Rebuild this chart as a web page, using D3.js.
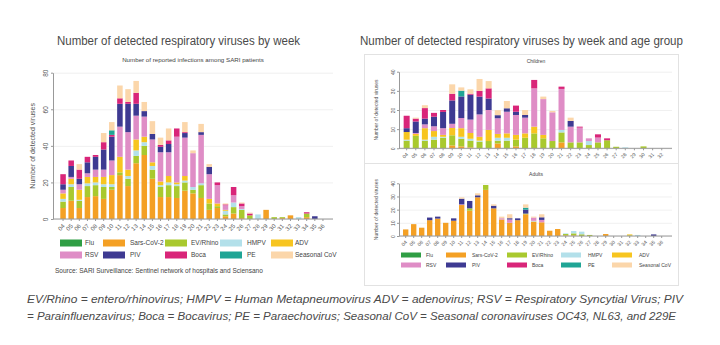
<!DOCTYPE html>
<html>
<head>
<meta charset="UTF-8">
<title>SARI viruses</title>
<script src="https://d3js.org/d3.v7.min.js"></script>
<style>
body { margin: 0; background: #fff; }
text { font-family: "Liberation Sans", Arial, sans-serif; }
</style>
</head>
<body>
<div id="chart"></div>
<script>
var keys = ["Flu", "Sars-CoV-2", "EV/Rhino", "HMPV", "ADV", "RSV", "PIV", "Boca", "PE", "Seasonal CoV"];
var colors = ["#2f9e44", "#f4a024", "#a9c92e", "#b3e0ea", "#f7c520", "#df8dc6", "#3e3a92", "#d92579", "#1fa595", "#fbd6aa"];

var weeksAll = ["04","05","06","07","08","09","10","11","12","13","14","15","16","17","18","19","20",
  "21","22","23","24","25","26","27","28","29","30","31","32","33","34","35","36"];
var weeksChildren = ["04","05","06","07","08","09","10","11","12","13","14","15","16","17","18","19","20",
  "21","22","23","24","25","26","27","28","29","30","31","32"];

// all SARI patients, weeks 04-36
var allFlu  = [0,0,0,0,0,0,0,0,0,0,0,0,0,0,0,0,0,0,0,0,0,0,0,0,0,0,0,0,0,0,0,0,0];
var allSars = [6,10,6,12,12.5,11,16,24,18,30.5,35,22,12,12,11.5,15.5,14,11.5,5,6,1.5,3,0.5,0,0,5,0,0.5,2,0,1,0,0];
var allEV   = [3.5,7.5,4,6,6,6.5,1.5,1.5,4,4,5,5,5.5,6.5,6.5,4.5,2,7,3.5,1,1,3.5,4.5,2,0,0,1,0.5,0,0,2,0,0];
var allHMPV = [1.5,1.5,0.5,1.5,1.5,1.5,1.5,0,1.5,3,2,2,1,1.5,1,1,1.5,1,0,0,2,2.5,0.5,0,2.5,0,0,0,0,1,0,0,0];
var allADV  = [3,3,5.5,3.5,3,4,5,8.5,3.5,6,3,2,2,3.5,1,2.5,0,0,2.5,1.5,0.5,0,0,0,0,0,0,0,0,0,0,0,0];
var allRSV  = [2,1,3,2,4,4,8,16.5,20.5,13,11,12.5,16,13,25,21,18.5,26.5,13.5,10,2.5,4,1.5,0,0,0,0,0,0,0,0,0,0];
var allPIV  = [3,6,3,6,7,11,13,12.5,15.5,6.5,3,3,3,4.5,0,2.5,0,1.5,4,0,0,0,0,0,0,0,0,0,0,0,0,1.5,0];
var allBoca = [5.5,3,5,3,1,4,1,3,1,6,0,0,1,2,4.5,0.5,0,0,0,1.5,0.5,4.5,1.5,1,0,0,0,0,0,0,0.7,0,0];
var allPE   = [0,0,0,0,0,0,2.5,0,0,0,0,0,0,0,0,0,0,0,0,0,0,0,0,0,0,0,0,0,0,0,0,0,0];
var allSCoV = [0,0,3,0,0,5,4.5,7,7,6.5,5,7,4,6.5,0,5.5,1.5,4.5,1.5,0,0.5,0,0.5,0.5,0,0,0,0,0,0,0,0,0];

// children, weeks 04-32
var chFlu  = [0,0,0,0,0,0,0,0,0,0,0,0,0,0,0,0,0,0,0,0,0,0,0,0,0,0,0,0,0];
var chSars = [0,0,0,0,0,1.5,1,0.5,0,0,2.5,0,1,0,0,0,0,3.1,0,0,0,0,0,0,0,0,0,0,0];
var chEV   = [4,6.5,4,4.5,5.5,5.3,4,3.5,3.5,3.8,1.5,4,3.5,5.5,7.8,5.2,3.8,5.2,3.1,3.1,1.7,3.1,4.2,0.8,0,0,1,0,0];
var chHMPV = [0.5,0,0.5,1.5,0.5,0,1,1,0.5,0,1.5,1.5,0,0,0,0,0,1.3,0,0,2.1,0,0,0,0.5,0,0,0,0];
var chADV  = [4,1,6,3,1,3.8,4.5,3,2,5.8,2,2.3,2.5,2.3,3.5,1.8,0,0,0,0,0,0,0,0,0,0,0,0,0];
var chRSV  = [0,0.5,2,2.5,3.5,2.2,5.3,7,11.7,10.4,8.2,11.3,10.4,8.2,20,18.7,15,21.4,8.2,7.7,1.4,2.5,0,0,0,0,0,0,0];
var chPIV  = [2,6,3,5,8.5,12.2,11.3,13,9.3,6,1.6,1.8,1.7,1.4,0,0,0,0,3,0,0,0,0,0,0,0,0,0,0];
var chBoca = [6.5,1.5,5.5,2,1,3.5,0,0.5,3,5.3,0,0,3.2,0,4.4,0,0,1.2,0,0.5,0,1.7,1,0,0,0,0,0,0];
var chPE   = [0,0,0,0,0,0,3,0,0,0,0,0,0,0,0,0,0,0,0,0,0,0,0,0,0,0,0,0,0];
var chSCoV = [0,0.5,1.5,0,0,4.9,1.7,2.3,6.2,3.8,2.6,3.8,0,2.6,0,1.3,0.7,0,1.7,0,0,0,0,0,0,0,0,0,0];

// adults, weeks 04-36
var adFlu  = [0,0,0,0,0,0,0,0,0,0,0,0,0,0,0,0,0,0,0,0,0,0,0,0,0,0,0,0,0,0,0,0,0];
var adSars = [5,9,6.3,12,13.2,10,11.6,23.5,19.2,29.4,35,21,12.5,10,12,16.5,11,10.4,4,5.3,0.5,0.5,0,0,0,1.5,0,0,0,0,0,0,0];
var adEV   = [0,0,0,0,0,0,0,0,1.8,0,3.7,0,0,0,0,0.5,0,0,0,0,1,1.5,1.3,0.8,0,0,0,0,0.5,0,0,0,0];
var adHMPV = [0,0,0,0,0,0,0,0,0,0,0,0,0,0,0,0,0.5,0,0,0,0.5,1.8,2,0,0,0,0,0,0,0.8,0,0,0];
var adADV  = [0,0,0,0,0,0,0,0,0,0,0,0,0,0,0,0,0,0,0,0,0,0,0,0,0,0,0,0,0.7,0,0,0,0];
var adRSV  = [0,0,0,0,0,0,0,0.5,0,0,0,0,1,2.5,0,0,2.5,1.8,0,0,0,0,0,0,0,0,0,0,0,0,0,0,0];
var adPIV  = [0,0,0,2,1.5,0,1.8,4.3,5.6,1.5,0,2,0,1,1.4,3,0,2,0,0,0,0,0,0,0,0,0,0,0,0,0,1.2,0];
var adBoca = [0,0,0,0,0,0,0,0,0,0,0,0,0,0,0,0,0,0,0,0,0,0,0,0,0,0,0,0,0,0,0,0,0];
var adPE   = [0,0,0,0,0,0,0,0,0,0,0,0,0,0,0,1.5,0,0,0,0,0,0,0,0,0,0,0,0,0,0,0,0,0];
var adSCoV = [0,0,0,0,0,0,0,1,0,1.5,0,1,1.2,3,0,2.5,0.7,2.3,0,0,0,0,0,0,0,0,0,0,0,0,0,0,0];

var yTicksAll = [0, 20, 40, 60, 80];
var yTicksAge = [0, 10, 20, 30, 40];

var titleLeft = "Number of detected respiratory viruses by week";
var titleRight = "Number of detected respiratory viruses by week and age group";
var subLeft = "Number of reported infections among SARI patients";
var sourceText = "Source: SARI Surveillance: Sentinel network of hospitals and Sciensano";
var notes = [
  "EV/Rhino = entero/rhinovirus; HMPV = Human Metapneumovirus ADV = adenovirus; RSV = Respiratory Syncytial Virus; PIV",
  "= Parainfluenzavirus; Boca = Bocavirus; PE = Paraechovirus; Seasonal CoV = Seasonal coronaviruses OC43, NL63, and 229E"
];

var svg = d3.select("#chart").append("svg").attr("width", 720).attr("height", 345);
svg.append("rect").attr("width", 720).attr("height", 345).attr("fill", "#fff");

function drawPanel(o) {
  var g = svg.append("g");
  var x = d3.scaleBand().domain(o.weeks).range([o.left, o.right]).paddingInner(o.pad).paddingOuter(o.pad / 2);
  var y = d3.scaleLinear().domain([0, o.max]).range([o.bottom, o.top]);

  // grid lines
  var grid = g.append("g").attr("transform", "translate(" + o.axisX + ",0)")
    .call(d3.axisLeft(y).tickValues(o.ticks).tickSize(-(o.gridRight - o.axisX)).tickFormat(""));
  grid.select(".domain").remove();
  grid.selectAll("line").attr("stroke", "#ececec").attr("stroke-width", 0.8);

  // stacked bars
  var rows = o.weeks.map(function(w, i) {
    var r = { week: w };
    keys.forEach(function(k, j) { r[k] = o.series[j][i]; });
    return r;
  });
  var stacked = d3.stack().keys(keys)(rows);
  g.selectAll("g.layer").data(stacked).join("g").attr("class", "layer")
    .attr("fill", function(d, i) { return colors[i]; })
    .selectAll("rect").data(function(d) { return d; }).join("rect")
    .attr("x", function(d) { return x(d.data.week); })
    .attr("width", x.bandwidth())
    .attr("y", function(d) { return y(d[1]); })
    .attr("height", function(d) { return Math.max(0, y(d[0]) - y(d[1])); });

  // y axis
  var ya = g.append("g").attr("transform", "translate(" + o.axisX + ",0)")
    .call(d3.axisLeft(y).tickValues(o.ticks).tickSize(2).tickSizeOuter(0));
  ya.select(".domain").attr("stroke", "#999");
  ya.selectAll("line").attr("stroke", "#999");
  ya.selectAll("text").attr("x", 0).attr("dy", 0).attr("text-anchor", "middle")
    .attr("transform", "translate(" + (-o.tickFont * 0.55 - 1) + ",0) rotate(-90)")
    .attr("font-size", o.tickFont).attr("fill", "#555").attr("font-family", "Liberation Sans, Arial");

  // x axis
  var xa = g.append("g").attr("transform", "translate(0," + o.bottom + ")")
    .call(d3.axisBottom(x).tickSize(2).tickSizeOuter(0));
  xa.select(".domain").attr("d", "M" + o.axisX + ",0H" + o.gridRight).attr("stroke", "#999");
  xa.selectAll("line").attr("stroke", "#999");
  xa.selectAll("text").attr("x", 0).attr("y", 0).attr("dy", 0).attr("text-anchor", "end")
    .attr("transform", "translate(" + (o.xFont * 0.35) + "," + (o.xFont * 0.9 + 2) + ") rotate(-45)")
    .attr("font-size", o.xFont).attr("fill", "#555").attr("font-family", "Liberation Sans, Arial");

  // y title
  svg.append("text").attr("transform", "translate(" + o.yTitleX + "," + ((o.top + o.bottom) / 2) + ") rotate(-90)")
    .attr("text-anchor", "middle").attr("font-size", o.yTitleFont).attr("fill", "#555")
    .text("Number of detected viruses");

  // subtitle
  svg.append("text").attr("x", o.subX).attr("y", o.subY).attr("text-anchor", "middle")
    .attr("font-size", o.subFont).attr("fill", "#444").text(o.sub);
}

function drawLegend(sx, tx, rowsY, sw, sh, fs) {
  keys.forEach(function(k, i) {
    var col = i % 5, row = Math.floor(i / 5);
    svg.append("rect").attr("x", sx[col]).attr("y", rowsY[row] - sh / 2).attr("width", sw).attr("height", sh)
      .attr("fill", colors[i]);
    svg.append("text").attr("x", tx[col]).attr("y", rowsY[row] + fs * 0.35).attr("font-size", fs)
      .attr("fill", "#444").text(k);
  });
}

// panel frames on the right
svg.append("rect").attr("x", 364.5).attr("y", 54.5).attr("width", 314).attr("height", 231)
  .attr("fill", "none").attr("stroke", "#e2e2e2");
svg.append("line").attr("x1", 364.5).attr("x2", 678.5).attr("y1", 163.5).attr("y2", 163.5).attr("stroke", "#e2e2e2");

// titles
svg.append("text").attr("x", 57).attr("y", 45).attr("font-family", "Lato, 'Open Sans', sans-serif")
  .attr("font-weight", 300).attr("font-size", 12.5).attr("fill", "#4a4a4a")
  .attr("textLength", 243).attr("lengthAdjust", "spacingAndGlyphs").text(titleLeft);
svg.append("text").attr("x", 360).attr("y", 45).attr("font-family", "Lato, 'Open Sans', sans-serif")
  .attr("font-weight", 300).attr("font-size", 12.5).attr("fill", "#4a4a4a")
  .attr("textLength", 323).attr("lengthAdjust", "spacingAndGlyphs").text(titleRight);

drawPanel({
  weeks: weeksAll,
  series: [allFlu, allSars, allEV, allHMPV, allADV, allRSV, allPIV, allBoca, allPE, allSCoV],
  left: 59, right: 327, pad: 0.32, top: 72.7, bottom: 219, max: 80, ticks: yTicksAll,
  axisX: 53, gridRight: 333, tickFont: 6.5, xFont: 6,
  yTitleX: 35, yTitleFont: 7, sub: subLeft, subX: 193, subY: 62, subFont: 6.2
});
drawPanel({
  weeks: weeksChildren,
  series: [chFlu, chSars, chEV, chHMPV, chADV, chRSV, chPIV, chBoca, chPE, chSCoV],
  left: 402.1, right: 666.3, pad: 0.34, top: 71.7, bottom: 148.3, max: 40, ticks: yTicksAge,
  axisX: 399, gridRight: 672, tickFont: 5, xFont: 5,
  yTitleX: 378, yTitleFont: 5, sub: "Children", subX: 536, subY: 63, subFont: 5
});
drawPanel({
  weeks: weeksAll,
  series: [adFlu, adSars, adEV, adHMPV, adADV, adRSV, adPIV, adBoca, adPE, adSCoV],
  left: 401.7, right: 665.7, pad: 0.33, top: 183.3, bottom: 236, max: 40, ticks: yTicksAge,
  axisX: 399, gridRight: 672, tickFont: 5, xFont: 5,
  yTitleX: 378, yTitleFont: 5, sub: "Adults", subX: 536, subY: 176, subFont: 5
});

drawLegend([60, 103, 165, 220, 271], [85, 130, 191, 247, 295], [243, 255], 22, 7, 6.5);
drawLegend([401, 446, 507, 561, 612], [426, 472, 532, 588, 639], [255, 265], 20, 5, 5);

svg.append("text").attr("x", 55).attr("y", 273).attr("font-size", 6.5).attr("fill", "#444").text(sourceText);

notes.forEach(function(t, i) {
  svg.append("text").attr("x", 27).attr("y", 303 + i * 17).attr("font-style", "italic")
    .attr("font-family", "Lato, 'Liberation Sans', sans-serif")
    .attr("font-size", 11.5).attr("fill", "#4a4a4a")
    .attr("textLength", i === 0 ? 656 : 649).attr("lengthAdjust", "spacingAndGlyphs").text(t);
});
</script>
</body>
</html>
